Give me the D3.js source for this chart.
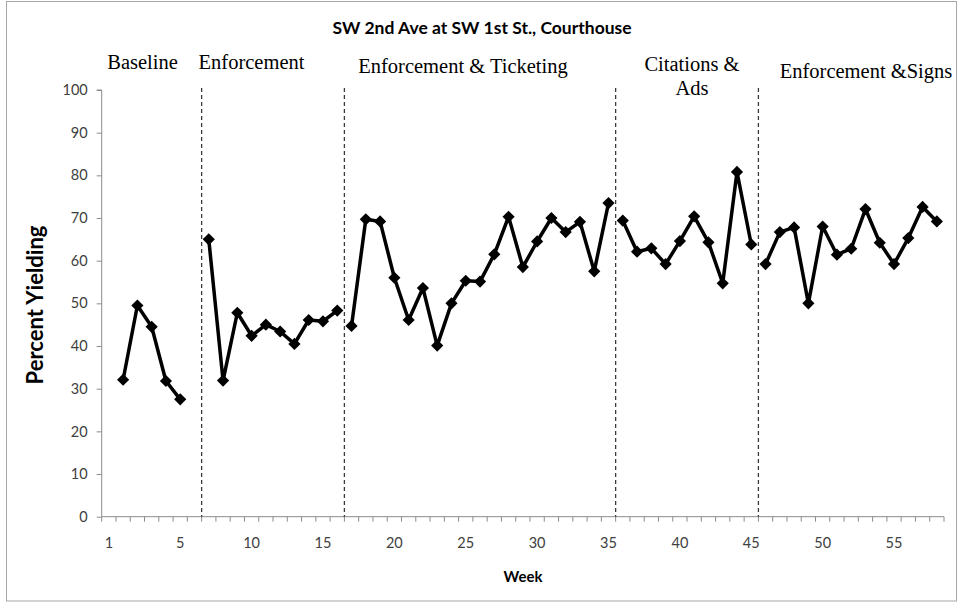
<!DOCTYPE html>
<html>
<head>
<meta charset="utf-8">
<script src="https://cdn.jsdelivr.net/npm/d3@7"></script>
<style>
  html, body { margin: 0; padding: 0; background: #fff; }
  svg { display: block; }
</style>
</head>
<body>
<script>
// category positions: 0..58, label "1" sits on position 0, then 5, 10, ... 55
const tickPositions = [0, 5, 10, 15, 20, 25, 30, 35, 40, 45, 50, 55];
const tickLabels = ["1", "5", "10", "15", "20", "25", "30", "35", "40", "45", "50", "55"];
const yTicks = [0, 10, 20, 30, 40, 50, 60, 70, 80, 90, 100];

const phaseNames = ["Baseline", "Enforcement", "Enforcement & Ticketing", "Citations & Ads", "Enforcement &Signs"];
const phaseStarts = [1, 7, 17, 36, 46];
const dividers = [6.5, 16.5, 35.5, 45.5];

const baseline = [32.1, 49.5, 44.5, 31.8, 27.5];
const enforcement = [65.0, 31.9, 47.8, 42.4, 45.0, 43.4, 40.5, 46.1, 45.8, 48.3];
const ticketing = [44.7, 69.7, 69.2, 56.0, 46.1, 53.6, 40.1, 50.0, 55.3, 55.1,
                   61.5, 70.3, 58.5, 64.5, 70.0, 66.7, 69.1, 57.5, 73.5];
const citations = [69.4, 62.1, 62.9, 59.2, 64.6, 70.4, 64.3, 54.7, 80.8, 63.8];
const signs = [59.2, 66.7, 67.8, 50.0, 68.0, 61.4, 62.8, 72.1, 64.2, 59.2, 65.3, 72.6, 69.2];
const phaseValues = [baseline, enforcement, ticketing, citations, signs];

const width = 962, height = 603;
const plot = { left: 101.7, right: 944, top: 90, bottom: 516.7 };
const sans = "Lato, 'Open Sans', sans-serif";

const svg = d3.select("body").append("svg")
  .attr("width", width)
  .attr("height", height);

// outer chart frame
svg.append("rect")
  .attr("x", 6.5).attr("y", 1.5)
  .attr("width", 950).attr("height", 599.5)
  .attr("fill", "#fff")
  .attr("stroke", "#a6a6a6");

const x = d3.scaleLinear().domain([-0.5, 58.5]).range([plot.left, plot.right]);
const y = d3.scaleLinear().domain([0, 100]).range([plot.bottom, plot.top]);

// y axis
const yAxis = svg.append("g")
  .attr("transform", `translate(${plot.left},0)`)
  .call(d3.axisLeft(y).tickValues(yTicks).tickSize(5).tickPadding(9));
yAxis.select(".domain").attr("stroke", "#8c8c8c").attr("d", `M-5,${plot.top}H0V${plot.bottom}`);
yAxis.selectAll(".tick line").attr("stroke", "#8c8c8c");
yAxis.selectAll(".tick text")
  .attr("fill", "#404040")
  .attr("font-family", sans)
  .attr("font-size", "14.5px");

// x axis: tick marks between categories, labels on categories
const boundaries = d3.range(-0.5, 59, 1);
const xAxis = svg.append("g").attr("transform", `translate(0,${plot.bottom})`);
xAxis.append("line")
  .attr("x1", plot.left).attr("x2", plot.right)
  .attr("stroke", "#8c8c8c");
xAxis.selectAll("line.tk").data(boundaries).join("line")
  .attr("class", "tk")
  .attr("x1", d => x(d)).attr("x2", d => x(d))
  .attr("y1", 0).attr("y2", 5)
  .attr("stroke", "#8c8c8c");
xAxis.selectAll("text").data(tickPositions).join("text")
  .attr("x", d => x(d))
  .attr("y", 31)
  .attr("text-anchor", "middle")
  .attr("fill", "#404040")
  .attr("font-family", sans)
  .attr("font-size", "14.5px")
  .text((d, i) => tickLabels[i]);

// phase dividers
svg.selectAll("line.divider").data(dividers).join("line")
  .attr("class", "divider")
  .attr("x1", d => x(d)).attr("x2", d => x(d))
  .attr("y1", plot.top - 2).attr("y2", plot.bottom)
  .attr("stroke", "#3a3a3a")
  .attr("stroke-width", 1.3)
  .attr("stroke-dasharray", "4,3");

// series, one path per phase
const line = d3.line()
  .x(d => x(d.p))
  .y(d => y(d.v));

const diamond = d3.symbol().type(d3.symbolDiamond2).size(95);

phaseValues.forEach((vals, k) => {
  const pts = vals.map((v, i) => ({ p: phaseStarts[k] + i, v }));
  svg.append("path")
    .datum(pts)
    .attr("fill", "none")
    .attr("stroke", "#000")
    .attr("stroke-width", 3.5)
    .attr("stroke-linejoin", "round")
    .attr("d", line);
  svg.selectAll(null).data(pts).join("path")
    .attr("transform", d => `translate(${x(d.p)},${y(d.v)})`)
    .attr("d", diamond)
    .attr("fill", "#000");
});

// phase labels (hand placed text boxes)
const labelPos = [
  { cx: 142.5, by: 69, lines: ["Baseline"] },
  { cx: 251.5, by: 69, lines: ["Enforcement"] },
  { cx: 463, by: 73, lines: ["Enforcement & Ticketing"] },
  { cx: 692, by: 71, lines: ["Citations &", "Ads"] },
  { cx: 866, by: 78, lines: ["Enforcement &Signs"] }
];
labelPos.forEach(lp => {
  const t = svg.append("text")
    .attr("text-anchor", "middle")
    .attr("font-family", "'Liberation Serif', 'Times New Roman', serif")
    .attr("font-size", "20.5px")
    .attr("fill", "#000");
  lp.lines.forEach((s, j) => {
    t.append("tspan").attr("x", lp.cx).attr("y", lp.by + j * 23.5).text(s);
  });
});

// title and axis titles
svg.append("text")
  .attr("x", 482).attr("y", 34)
  .attr("text-anchor", "middle")
  .attr("font-family", sans)
  .attr("font-weight", "bold")
  .attr("font-size", "17.5px")
  .text("SW 2nd Ave at SW 1st St., Courthouse");

svg.append("text")
  .attr("transform", "translate(43,305) rotate(-90)")
  .attr("text-anchor", "middle")
  .attr("font-family", sans)
  .attr("font-weight", "bold")
  .attr("font-size", "22px")
  .text("Percent Yielding");

svg.append("text")
  .attr("x", 523).attr("y", 582)
  .attr("text-anchor", "middle")
  .attr("font-family", sans)
  .attr("font-weight", "bold")
  .attr("font-size", "15px")
  .text("Week");
</script>
</body>
</html>
